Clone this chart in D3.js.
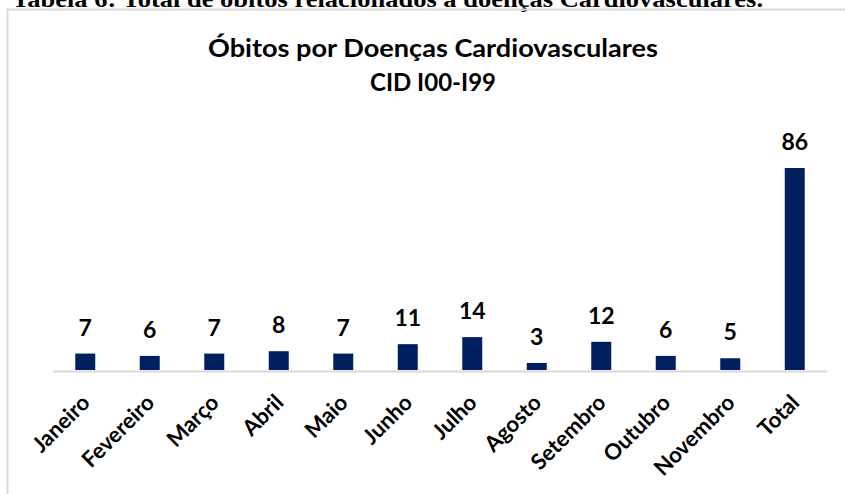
<!DOCTYPE html>
<html lang="pt">
<head>
<meta charset="utf-8">
<title>Óbitos por Doenças Cardiovasculares</title>
<script src="https://d3js.org/d3.v7.min.js"></script>
<style>
  body { margin: 0; background: #fff; }
  svg { display: block; }
</style>
</head>
<body>
<script>
  // dados
  let meses = ['Janeiro','Fevereiro','Março','Abril','Maio','Junho','Julho',
               'Agosto','Setembro','Outubro','Novembro','Total'];
  let obitos = [7, 6, 7, 8, 7, 11, 14, 3, 12, 6, 5, 86];
  let tituloLinhas = ['Óbitos por Doenças Cardiovasculares', 'CID I00-I99'];
  let cabecalho = 'Tabela 6: Total de óbitos relacionados a doenças Cardiovasculares.';

  let width = 845, height = 494;
  let font = "Lato, 'Open Sans', sans-serif";

  let svg = d3.select("body").append("svg")
              .attr("width", width)
              .attr("height", height);

  // cabeçalho do documento (cortado no topo, como no original)
  svg.append("text")
     .attr("x", 12).attr("y", 7)
     .attr("font-family", "'Liberation Serif', 'Times New Roman', serif")
     .attr("font-weight", "bold")
     .attr("font-size", 24)
     .attr("textLength", 751)
     .attr("lengthAdjust", "spacingAndGlyphs")
     .text(cabecalho);

  // moldura do gráfico
  svg.append("rect")
     .attr("x", 7.5).attr("y", 9.5)
     .attr("width", 900).attr("height", 600)
     .attr("fill", "none")
     .attr("stroke", "#d9d9d9")
     .attr("stroke-width", 2);

  // título
  let larguras = [450, 126];
  svg.append("g").selectAll("text")
     .data(tituloLinhas)
     .enter().append("text")
     .attr("x", 433)
     .attr("y", (d, i) => 57 + i * 34)
     .attr("text-anchor", "middle")
     .attr("font-family", font)
     .attr("font-weight", "bold")
     .attr("font-size", 25)
     .attr("textLength", (d, i) => larguras[i])
     .attr("lengthAdjust", "spacingAndGlyphs")
     .text(d => d);

  let x = d3.scaleBand()
            .domain(meses)
            .range([53, 827])
            .paddingInner(0.69)
            .paddingOuter(0.345);

  let y = d3.scaleLinear()
            .domain([0, 86])
            .range([370, 168]);

  // barras
  svg.append("g").selectAll("rect")
     .data(obitos)
     .enter().append("rect")
     .attr("x", (d, i) => x(meses[i]))
     .attr("y", d => y(d))
     .attr("width", x.bandwidth())
     .attr("height", d => y(0) - y(d))
     .attr("fill", "#002060");

  // eixo horizontal
  let xAxis = svg.append("g")
     .attr("transform", "translate(0," + (y(0) + 1) + ")")
     .call(d3.axisBottom(x).tickSize(0).tickFormat(""));
  xAxis.select(".domain").attr("stroke", "#d9d9d9").attr("stroke-width", 2);

  // rótulos das categorias
  svg.append("g").selectAll("text")
     .data(meses)
     .enter().append("text")
     .attr("transform", d => "translate(" + (x(d) + x.bandwidth() / 2 + 6) + "," + 404 + ") rotate(-45)")
     .attr("text-anchor", "end")
     .attr("font-family", font)
     .attr("font-weight", "bold")
     .attr("font-size", 22)
     .attr("fill", "#000")
     .text(d => d);

  // rótulos de valores
  svg.append("g").selectAll("text")
     .data(obitos)
     .enter().append("text")
     .attr("x", (d, i) => x(meses[i]) + x.bandwidth() / 2)
     .attr("y", d => y(d) - 18)
     .attr("text-anchor", "middle")
     .attr("font-family", font)
     .attr("font-weight", "bold")
     .attr("font-size", 23)
     .attr("fill", "#000")
     .text(d => d);
</script>
</body>
</html>
